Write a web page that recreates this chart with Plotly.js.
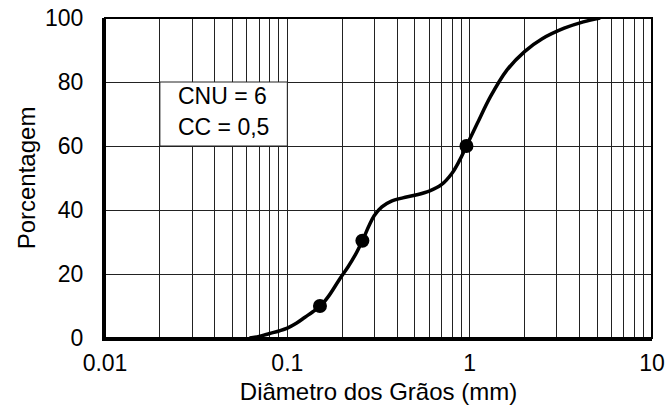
<!DOCTYPE html>
<html>
<head>
<meta charset="utf-8">
<script src="https://cdn.plot.ly/plotly-3.0.1.min.js"></script>
<style>html,body{margin:0;padding:0;background:#fff;}#chart{width:669px;height:412px;}</style>
</head>
<body>
<div id="chart"></div>
<script>
// Curve (grain size distribution)
const curveDiameter = [0.062, 0.07, 0.08, 0.09, 0.1, 0.112, 0.125, 0.138, 0.152, 0.17, 0.195, 0.215, 0.235, 0.258, 0.28, 0.3, 0.33, 0.37, 0.43, 0.5, 0.6, 0.7, 0.8, 0.88, 0.96, 1.1, 1.3, 1.6, 2, 2.5, 3.3, 4.2, 5.2];
const curvePercent  = [0, 0.5, 1.4, 2.2, 3.1, 4.6, 6.5, 8.2, 10, 13.4, 18.7, 22.2, 25.8, 30.4, 35, 38.3, 41, 42.7, 43.8, 44.6, 45.9, 47.9, 51.5, 55.5, 60, 67, 75.4, 83.7, 89.5, 93.5, 96.8, 98.8, 100];
// Marked points (D10, D30, D60)
const pointDiameter = [0.151, 0.258, 0.96];
const pointPercent  = [10, 30.4, 60];
// Axis ticks
const decades = [0.01, 0.1, 1];
const xTickLabels = ['0.01', '0.1', '1', '10'];
const yTicks = [0, 20, 40, 60, 80, 100];
// Annotation text
const noteLines = ['CNU = 6', 'CC = 0,5'];

const xTickVals = [], xTickText = [];
decades.forEach((d, i) => {
  for (let m = 1; m <= 9; m++) {
    xTickVals.push(+(d * m).toPrecision(3));
    xTickText.push(m === 1 ? xTickLabels[i] : '');
  }
});
xTickVals.push(10); xTickText.push(xTickLabels[3]);

const font = {family: '"Liberation Sans", Arial, sans-serif', color: '#000'};

const traces = [
  {x: curveDiameter, y: curvePercent, type: 'scatter', mode: 'lines',
   line: {color: '#000', width: 3.5, shape: 'spline', smoothing: 1}, hoverinfo: 'skip'},
  {x: pointDiameter, y: pointPercent, type: 'scatter', mode: 'markers',
   marker: {color: '#000', size: 14}, hoverinfo: 'skip'}
];

const layout = {
  width: 669, height: 412,
  margin: {l: 105, r: 17, t: 18, b: 74},
  paper_bgcolor: '#fff', plot_bgcolor: '#fff',
  showlegend: false,
  font: Object.assign({size: 23}, font),
  xaxis: {
    type: 'log', range: [-2, 1],
    tickvals: xTickVals, ticktext: xTickText,
    showgrid: true, gridcolor: '#222', gridwidth: 1,
    ticks: '', ticklabelstandoff: 2,
    tickfont: Object.assign({size: 23}, font),
    showline: true, linecolor: '#000', linewidth: 3, mirror: false,
    zeroline: false,
    title: {text: 'Diâmetro dos Grãos (mm)', font: Object.assign({size: 24}, font), standoff: 9}
  },
  yaxis: {
    range: [0, 100], tickvals: yTicks,
    showgrid: true, gridcolor: '#222', gridwidth: 1,
    ticks: '', ticklabelstandoff: 14,
    tickfont: Object.assign({size: 23}, font),
    showline: true, linecolor: '#000', linewidth: 3, mirror: false,
    zeroline: false,
    title: {text: 'Porcentagem', font: Object.assign({size: 24}, font), standoff: 3}
  },
  shapes: [
    {type: 'rect', xref: 'x', yref: 'y', x0: 0.02, x1: 0.1, y0: 60, y1: 80,
     fillcolor: '#fff', line: {color: '#222', width: 1}, layer: 'between'},
    {type: 'rect', xref: 'paper', yref: 'paper', x0: 0, x1: 1, y0: 0, y1: 1,
     line: {color: '#000', width: 2}, layer: 'above'}
  ],
  annotations: [
    {x: Math.log10(0.0245), y: 75.5, xref: 'x', yref: 'y', text: noteLines[0], showarrow: false,
     xanchor: 'left', yanchor: 'middle', font: Object.assign({size: 23}, font)},
    {x: Math.log10(0.0245), y: 65.8, xref: 'x', yref: 'y', text: noteLines[1], showarrow: false,
     xanchor: 'left', yanchor: 'middle', font: Object.assign({size: 23}, font)}
  ]
};

Plotly.newPlot('chart', traces, layout, {displayModeBar: false, staticPlot: true});
</script>
</body>
</html>
